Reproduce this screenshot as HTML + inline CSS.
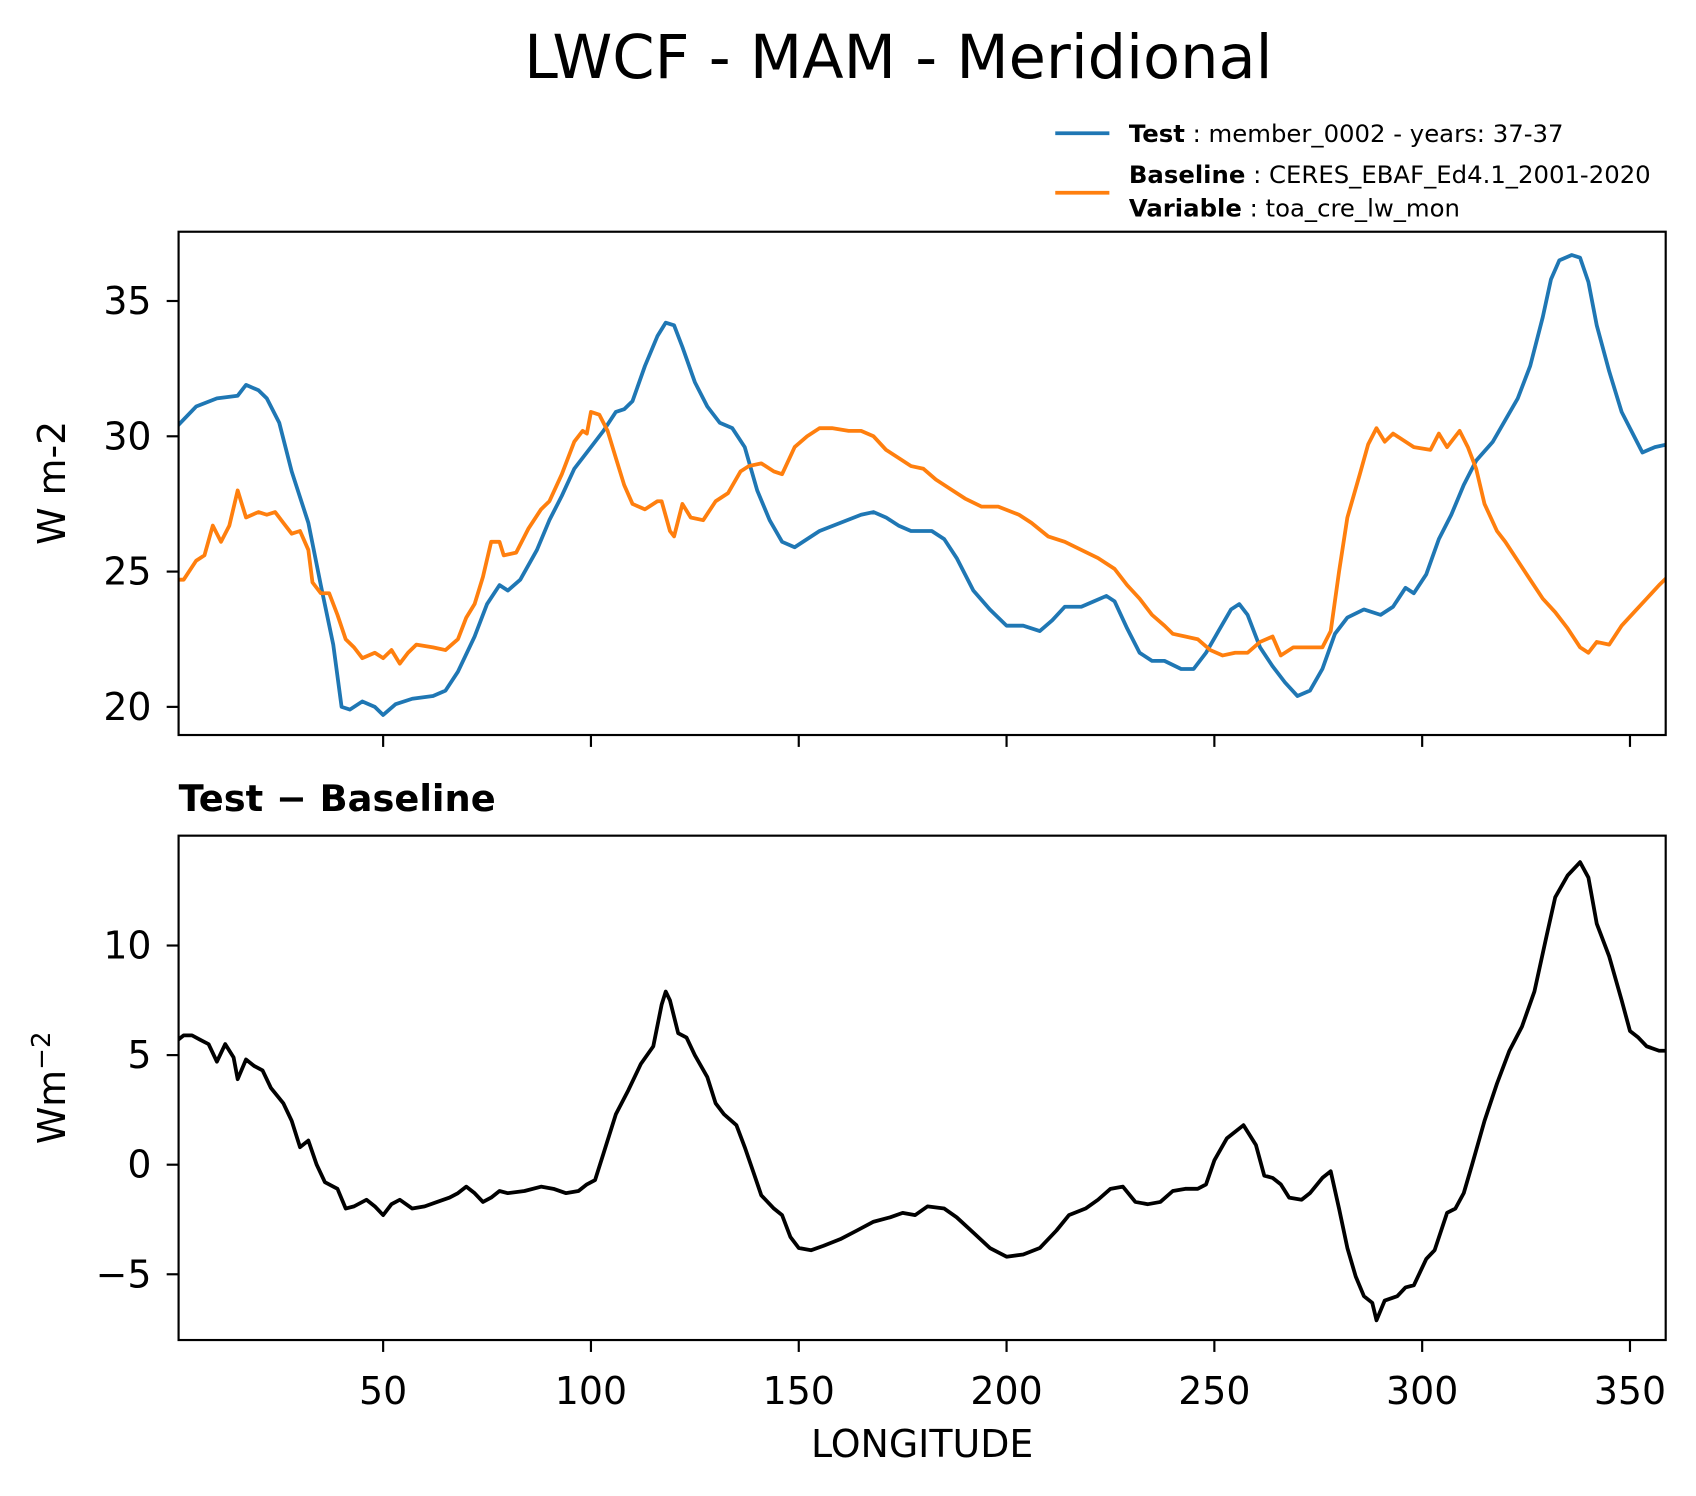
<!DOCTYPE html>
<html><head><meta charset="utf-8"><style>
html,body{margin:0;padding:0;background:#fff}
svg{display:block;font-family:"DejaVu Sans","Liberation Sans",sans-serif}
</style></head><body>
<svg id="chart" width="1696" height="1496" viewBox="0 0 1567 1382" xmlns="http://www.w3.org/2000/svg">
<rect width="1567" height="1382" fill="#fff"/>
<text x="830" y="72" font-size="56" text-anchor="middle">LWCF - MAM - Meridional</text>
<g>
<line x1="975" y1="123" x2="1025" y2="123" stroke="#1f77b4" stroke-width="3.5"/>
<text x="1043" y="131" font-size="22.5"><tspan font-weight="bold">Test</tspan> : member_0002 - years: 37-37</text>
<line x1="975" y1="178" x2="1025" y2="178" stroke="#ff7f0e" stroke-width="3.5"/>
<text x="1043" y="169" font-size="22.5"><tspan font-weight="bold">Baseline</tspan> : CERES_EBAF_Ed4.1_2001-2020</text>
<text x="1043" y="200" font-size="22.5"><tspan font-weight="bold">Variable</tspan> : toa_cre_lw_mon</text>
</g>
<text transform="translate(60,446) rotate(-90)" font-size="35" text-anchor="middle">W m-2</text>
<text transform="translate(60,1005) rotate(-90)" font-size="35" text-anchor="middle">Wm<tspan baseline-shift="super" font-size="24">−2</tspan></text>
<text x="165" y="749" font-size="34" font-weight="bold">Test − Baseline</text>
<text x="852" y="1346" font-size="35" text-anchor="middle">LONGITUDE</text>
<g id="plots"></g>
</svg>
<script>
const testX=[0,5,10,15,17,20,22,25,28,32,35,38,40,42,45,48,50,53,57,62,65,68,72,75,78,80,83,87,90,93,96,100,103,106,108,110,113,116,118,120,122,125,128,131,134,137,140,143,146,149,152,155,160,165,168,171,174,177,182,185,188,192,196,200,204,208,211,214,218,221,224,226,229,232,235,238,242,245,248,251,254,256,258,261,264,267,270,273,276,279,282,286,290,293,296,298,301,304,307,310,313,317,320,323,326,329,331,333,336,338,340,342,345,348,351,353,356,359];
const testY=[30.3,31.1,31.4,31.5,31.9,31.7,31.4,30.5,28.7,26.8,24.5,22.3,20.0,19.9,20.2,20.0,19.7,20.1,20.3,20.4,20.6,21.3,22.6,23.8,24.5,24.3,24.7,25.8,26.9,27.8,28.8,29.6,30.2,30.9,31.0,31.3,32.6,33.7,34.2,34.1,33.3,32.0,31.1,30.5,30.3,29.6,28.0,26.9,26.1,25.9,26.2,26.5,26.8,27.1,27.2,27.0,26.7,26.5,26.5,26.2,25.5,24.3,23.6,23.0,23.0,22.8,23.2,23.7,23.7,23.9,24.1,23.9,22.9,22.0,21.7,21.7,21.4,21.4,22.0,22.8,23.6,23.8,23.4,22.2,21.5,20.9,20.4,20.6,21.4,22.7,23.3,23.6,23.4,23.7,24.4,24.2,24.9,26.2,27.1,28.2,29.1,29.8,30.6,31.4,32.6,34.4,35.8,36.5,36.7,36.6,35.7,34.1,32.4,30.9,30.0,29.4,29.6,29.7];
const baseX=[0,2,5,7,9,11,13,15,17,20,22,24,26,28,30,32,33,35,37,39,41,43,45,48,50,52,54,56,58,62,65,68,70,72,74,76,78,79,82,85,88,90,93,96,98,99,100,102,104,106,108,110,113,116,117,119,120,122,124,127,130,133,136,138,141,144,146,149,152,155,158,162,165,168,171,174,177,180,183,186,190,194,198,203,206,210,214,218,222,226,229,232,235,238,240,243,246,249,252,255,258,261,264,266,269,273,276,278,280,282,285,287,289,291,293,296,298,302,304,306,309,311,313,315,318,320,323,326,329,332,335,338,340,342,345,348,351,354,357,359];
const baseY=[24.7,24.7,25.4,25.6,26.7,26.1,26.7,28.0,27.0,27.2,27.1,27.2,26.8,26.4,26.5,25.8,24.6,24.2,24.2,23.4,22.5,22.2,21.8,22.0,21.8,22.1,21.6,22.0,22.3,22.2,22.1,22.5,23.3,23.8,24.8,26.1,26.1,25.6,25.7,26.6,27.3,27.6,28.6,29.8,30.2,30.1,30.9,30.8,30.2,29.2,28.2,27.5,27.3,27.6,27.6,26.5,26.3,27.5,27.0,26.9,27.6,27.9,28.7,28.9,29.0,28.7,28.6,29.6,30.0,30.3,30.3,30.2,30.2,30.0,29.5,29.2,28.9,28.8,28.4,28.1,27.7,27.4,27.4,27.1,26.8,26.3,26.1,25.8,25.5,25.1,24.5,24.0,23.4,23.0,22.7,22.6,22.5,22.1,21.9,22.0,22.0,22.4,22.6,21.9,22.2,22.2,22.2,22.8,25.0,27.0,28.6,29.7,30.3,29.8,30.1,29.8,29.6,29.5,30.1,29.6,30.2,29.6,28.8,27.5,26.5,26.1,25.4,24.7,24.0,23.5,22.9,22.2,22.0,22.4,22.3,23.0,23.5,24.0,24.5,24.8];
const diffX=[0,2,4,6,8,10,12,14,15,17,19,21,23,26,28,30,32,34,36,39,41,43,46,48,50,52,54,57,60,63,66,68,70,72,74,76,78,80,84,88,91,94,97,99,101,103,106,109,112,115,117,118,119,121,123,125,128,130,132,135,137,139,141,144,146,148,150,153,156,160,164,168,172,175,178,181,185,188,192,196,200,204,208,212,215,219,222,225,228,231,234,237,240,243,246,248,250,253,257,260,262,264,266,268,271,273,276,278,280,282,284,286,288,289,291,294,296,298,301,303,306,308,310,312,315,318,321,324,327,330,332,335,338,340,342,345,348,350,352,354,357,359];
const diffY=[5.6,5.9,5.9,5.7,5.5,4.7,5.5,4.9,3.9,4.8,4.5,4.3,3.5,2.8,2.0,0.8,1.1,0.0,-0.8,-1.1,-2.0,-1.9,-1.6,-1.9,-2.3,-1.8,-1.6,-2.0,-1.9,-1.7,-1.5,-1.3,-1.0,-1.3,-1.7,-1.5,-1.2,-1.3,-1.2,-1.0,-1.1,-1.3,-1.2,-0.9,-0.7,0.5,2.3,3.4,4.6,5.4,7.3,7.9,7.5,6.0,5.8,5.0,4.0,2.8,2.3,1.8,0.8,-0.3,-1.4,-2.0,-2.3,-3.3,-3.8,-3.9,-3.7,-3.4,-3.0,-2.6,-2.4,-2.2,-2.3,-1.9,-2.0,-2.4,-3.1,-3.8,-4.2,-4.1,-3.8,-3.0,-2.3,-2.0,-1.6,-1.1,-1.0,-1.7,-1.8,-1.7,-1.2,-1.1,-1.1,-0.9,0.2,1.2,1.8,0.9,-0.5,-0.6,-0.9,-1.5,-1.6,-1.3,-0.6,-0.3,-2.0,-3.8,-5.1,-6.0,-6.3,-7.1,-6.2,-6.0,-5.6,-5.5,-4.3,-3.9,-2.2,-2.0,-1.3,0.0,2.0,3.7,5.2,6.3,7.9,10.5,12.2,13.2,13.8,13.1,11.0,9.5,7.5,6.1,5.8,5.4,5.2,5.2];
const xTicks=[50,100,150,200,250,300,350];
const topYTicks=[20,25,30,35];
const botYTicks=[-5,0,5,10];

const NS="http://www.w3.org/2000/svg";
const L=165,R=1539;
const xs=v=>162+3.84*v;
const ysTop=v=>653-(v-20)*25;
const ysBot=v=>1076-20.25*v;
const g=document.getElementById('plots');
function mk(tag,attrs,parent){const e=document.createElementNS(NS,tag);for(const k in attrs)e.setAttribute(k,attrs[k]);(parent||g).appendChild(e);return e;}
function clip(id,top,bot){const d=mk('clipPath',{id:id});mk('rect',{x:L,y:top,width:R-L,height:bot-top},d);}
clip('ct',214,679);clip('cb',772,1238);
function line(X,Y,ys,color,cid,name){
  const d=X.map((x,i)=>(i?'L':'M')+xs(x).toFixed(1)+','+ys(Y[i]).toFixed(1)).join('');
  const p=mk('path',{d:d,fill:'none',stroke:color,'stroke-width':3.5,'stroke-linejoin':'round','clip-path':'url(#'+cid+')'});
  
  
}
line(testX,testY,ysTop,'#1f77b4','ct','test-series-line');
line(baseX,baseY,ysTop,'#ff7f0e','ct','baseline-series-line');
line(diffX,diffY,ysBot,'#000','cb','difference-series-line');
function frame(top,bot,name){
  const r=mk('rect',{x:L,y:top,width:R-L,height:bot-top,fill:'none',stroke:'#000','stroke-width':2});
  
  
}
frame(214,679,'top-panel-frame');frame(772,1238,'bottom-panel-frame');
xTicks.forEach(t=>{
  mk('line',{x1:xs(t),x2:xs(t),y1:679,y2:690,stroke:'#000','stroke-width':2});
  mk('line',{x1:xs(t),x2:xs(t),y1:1238,y2:1249,stroke:'#000','stroke-width':2});
  const tx=mk('text',{x:xs(t),y:1297,'font-size':35,'text-anchor':'middle'});
  tx.textContent=t;
  
  
});
topYTicks.forEach(t=>{
  mk('line',{x1:L-11,x2:L,y1:ysTop(t),y2:ysTop(t),stroke:'#000','stroke-width':2});
  const tx=mk('text',{x:L-25,y:ysTop(t)+12,'font-size':35,'text-anchor':'end'});
  tx.textContent=t;
  
  
});
botYTicks.forEach(t=>{
  mk('line',{x1:L-11,x2:L,y1:ysBot(t),y2:ysBot(t),stroke:'#000','stroke-width':2});
  const tx=mk('text',{x:L-25,y:ysBot(t)+12,'font-size':35,'text-anchor':'end'});
  tx.textContent=t<0?'−'+(-t):t;
  
  
});
</script>
</body></html>
